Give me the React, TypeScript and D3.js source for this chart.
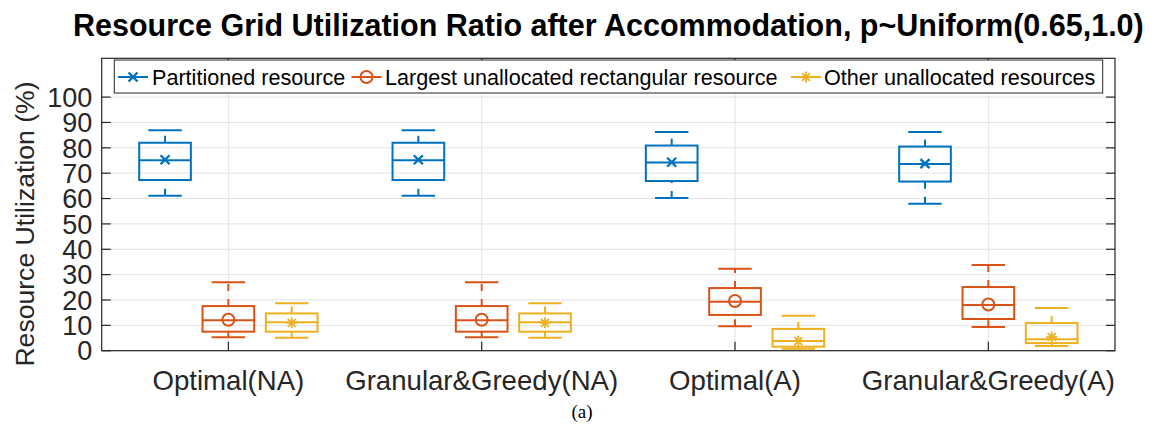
import React from "react";
import * as d3 from "d3";

const categories = ["Optimal(NA)", "Granular&Greedy(NA)", "Optimal(A)", "Granular&Greedy(A)"];
const seriesNames = [
  "Partitioned resource",
  "Largest unallocated rectangular resource",
  "Other unallocated resources",
];

// Partitioned resource
const partLo = [61.1, 61.1, 60.2, 57.9];
const partQ1 = [67.3, 67.3, 66.9, 66.7];
const partMed = [75.1, 75.1, 74.2, 73.6];
const partQ3 = [82.0, 82.0, 80.9, 80.5];
const partHi = [86.9, 86.9, 86.2, 86.2];
const partMean = [75.3, 75.3, 74.3, 73.8];

// Largest unallocated rectangular resource
const largLo = [5.3, 5.3, 9.6, 9.3];
const largQ1 = [7.5, 7.5, 14.1, 12.5];
const largMed = [12.0, 12.0, 19.3, 18.0];
const largQ3 = [17.6, 17.6, 24.7, 25.1];
const largHi = [27.0, 27.0, 32.3, 33.8];
const largMean = [12.2, 12.2, 19.6, 18.2];

// Other unallocated resources
const othLo = [5.1, 5.1, 0.8, 1.9];
const othQ1 = [7.5, 7.5, 1.6, 3.0];
const othMed = [11.2, 11.2, 3.8, 4.5];
const othQ3 = [14.7, 14.7, 8.6, 10.9];
const othHi = [18.7, 18.7, 13.8, 16.8];
const othMean = [11.0, 11.0, 3.8, 5.4];

const yTicks = [0, 10, 20, 30, 40, 50, 60, 70, 80, 90, 100];

const W = 1156;
const H = 426;
const PL = 101.7, PR = 1115, PT = 58.3, PB = 350.7;
const COLORS = ["#0072BD", "#D95319", "#EDB120"];
const AX = "#262626";
const GRID = "#e3e3e3";
const SANS = "'Liberation Sans', Arial, Helvetica, sans-serif";

const series = [
  { lo: partLo, q1: partQ1, med: partMed, q3: partQ3, hi: partHi, mean: partMean, marker: "x" },
  { lo: largLo, q1: largQ1, med: largMed, q3: largQ3, hi: largHi, mean: largMean, marker: "o" },
  { lo: othLo, q1: othQ1, med: othMed, q3: othQ3, hi: othHi, mean: othMean, marker: "*" },
];

function Marker({ type, cx, cy, color }: { type: string; cx: number; cy: number; color: string }) {
  if (type === "x") {
    const s = 4.5;
    return (
      <g stroke={color} strokeWidth={2.4}>
        <line x1={cx - s} y1={cy - s} x2={cx + s} y2={cy + s} />
        <line x1={cx - s} y1={cy + s} x2={cx + s} y2={cy - s} />
      </g>
    );
  }
  if (type === "o") {
    return <circle cx={cx} cy={cy} r={6} fill="none" stroke={color} strokeWidth={2} />;
  }
  const s = 5.5;
  const d = s * 0.72;
  return (
    <g stroke={color} strokeWidth={1.8}>
      <line x1={cx - s} y1={cy} x2={cx + s} y2={cy} />
      <line x1={cx} y1={cy - s} x2={cx} y2={cy + s} />
      <line x1={cx - d} y1={cy - d} x2={cx + d} y2={cy + d} />
      <line x1={cx - d} y1={cy + d} x2={cx + d} y2={cy - d} />
    </g>
  );
}

export default function App() {
  const x = d3.scaleLinear().domain([0.5, 4.5]).range([PL, PR]);
  const y = d3.scaleLinear().domain([0, 115.3]).range([PB, PT]);
  const unit = x(1) - x(0);
  const offsets = [-0.25, 0, 0.25];
  const boxHalf = 0.102 * unit;
  const capHalf = 0.066 * unit;
  const tickLen = 9;

  const legendItems = [
    { lx: 118, tx: 152 },
    { lx: 351.5, tx: 385 },
    { lx: 791, tx: 824 },
  ];

  return (
    <svg
      width={W}
      height={H}
      viewBox={`0 0 ${W} ${H}`}
      style={{ position: "absolute", left: 0, top: 0, background: "#fff", display: "block" }}
    >
      <rect x={0} y={0} width={W} height={H} fill="#fff" />
      {/* grid */}
      {yTicks.map((t) => (
        <line key={"gy" + t} x1={PL} x2={PR} y1={y(t)} y2={y(t)} stroke={GRID} strokeWidth={1} />
      ))}
      {categories.map((c, i) => (
        <line key={"gx" + c} x1={x(i + 1)} x2={x(i + 1)} y1={PT} y2={PB} stroke={GRID} strokeWidth={1} />
      ))}

      {/* boxes */}
      {series.map((s, si) =>
        categories.map((c, i) => {
          const cx = x(i + 1 + offsets[si]);
          const col = COLORS[si];
          return (
            <g key={`b${si}-${i}`} fill="none" stroke={col} strokeWidth={2}>
              <line x1={cx} x2={cx} y1={y(s.q3[i])} y2={y(s.hi[i])} strokeDasharray="7 8" />
              <line x1={cx} x2={cx} y1={y(s.lo[i])} y2={y(s.q1[i])} strokeDasharray="7 8" />
              <line x1={cx - capHalf} x2={cx + capHalf} y1={y(s.hi[i])} y2={y(s.hi[i])} />
              <line x1={cx - capHalf} x2={cx + capHalf} y1={y(s.lo[i])} y2={y(s.lo[i])} />
              <rect
                x={cx - boxHalf}
                y={y(s.q3[i])}
                width={2 * boxHalf}
                height={y(s.q1[i]) - y(s.q3[i])}
              />
              <line x1={cx - boxHalf} x2={cx + boxHalf} y1={y(s.med[i])} y2={y(s.med[i])} />
              <Marker type={s.marker} cx={cx} cy={y(s.mean[i])} color={col} />
            </g>
          );
        })
      )}

      {/* axes box */}
      <rect x={PL} y={PT} width={PR - PL} height={PB - PT} fill="none" stroke={AX} strokeWidth={1.2} />
      {yTicks.map((t) => (
        <g key={"ty" + t} stroke={AX} strokeWidth={1.2}>
          <line x1={PL} x2={PL + tickLen} y1={y(t)} y2={y(t)} />
          <line x1={PR} x2={PR - tickLen} y1={y(t)} y2={y(t)} />
        </g>
      ))}
      {categories.map((c, i) => (
        <g key={"tx" + c} stroke={AX} strokeWidth={1.2}>
          <line x1={x(i + 1)} x2={x(i + 1)} y1={PB} y2={PB - tickLen} />
          <line x1={x(i + 1)} x2={x(i + 1)} y1={PT} y2={PT + tickLen} />
        </g>
      ))}

      {/* tick labels */}
      {yTicks.map((t) => (
        <text
          key={"ly" + t}
          x={PL - 9.5}
          y={y(t)}
          dy="0.36em"
          textAnchor="end"
          fontFamily={SANS}
          fontSize={27}
          fill="#262626"
        >
          {t}
        </text>
      ))}
      {categories.map((c, i) => (
        <text
          key={"lx" + c}
          x={x(i + 1)}
          y={390}
          textAnchor="middle"
          fontFamily={SANS}
          fontSize={27.6}
          fill="#262626"
        >
          {c}
        </text>
      ))}

      {/* y label */}
      <text
        transform={`translate(33.5, 224) rotate(-90)`}
        textAnchor="middle"
        fontFamily={SANS}
        fontSize={26.6}
        fill="#262626"
      >
        Resource Utilization (%)
      </text>

      {/* title */}
      <text
        x={(PL + PR) / 2}
        y={35.5}
        textAnchor="middle"
        fontFamily={SANS}
        fontWeight="bold"
        fontSize={30.5}
        fill="#000"
      >
        Resource Grid Utilization Ratio after Accommodation, p~Uniform(0.65,1.0)
      </text>

      {/* legend */}
      <rect x={114.3} y={60} width={1102.7 - 114.3} height={33} fill="#fff" stroke={AX} strokeWidth={1} />
      {seriesNames.map((n, i) => {
        const it = legendItems[i];
        const cy = 77;
        return (
          <g key={"lg" + i}>
            <line x1={it.lx} x2={it.lx + 30} y1={cy} y2={cy} stroke={COLORS[i]} strokeWidth={2} />
            <Marker type={series[i].marker} cx={it.lx + 15} cy={cy} color={COLORS[i]} />
            <text
              x={it.tx}
              y={cy}
              dy="0.36em"
              fontFamily={SANS}
              fontSize={21.6}
              fill="#000"
            >
              {n}
            </text>
          </g>
        );
      })}

      {/* caption */}
      <text
        x={582}
        y={417.5}
        textAnchor="middle"
        fontFamily="'Liberation Serif', 'Times New Roman', serif"
        fontSize={19}
        fill="#000"
      >
        (a)
      </text>
    </svg>
  );
}
